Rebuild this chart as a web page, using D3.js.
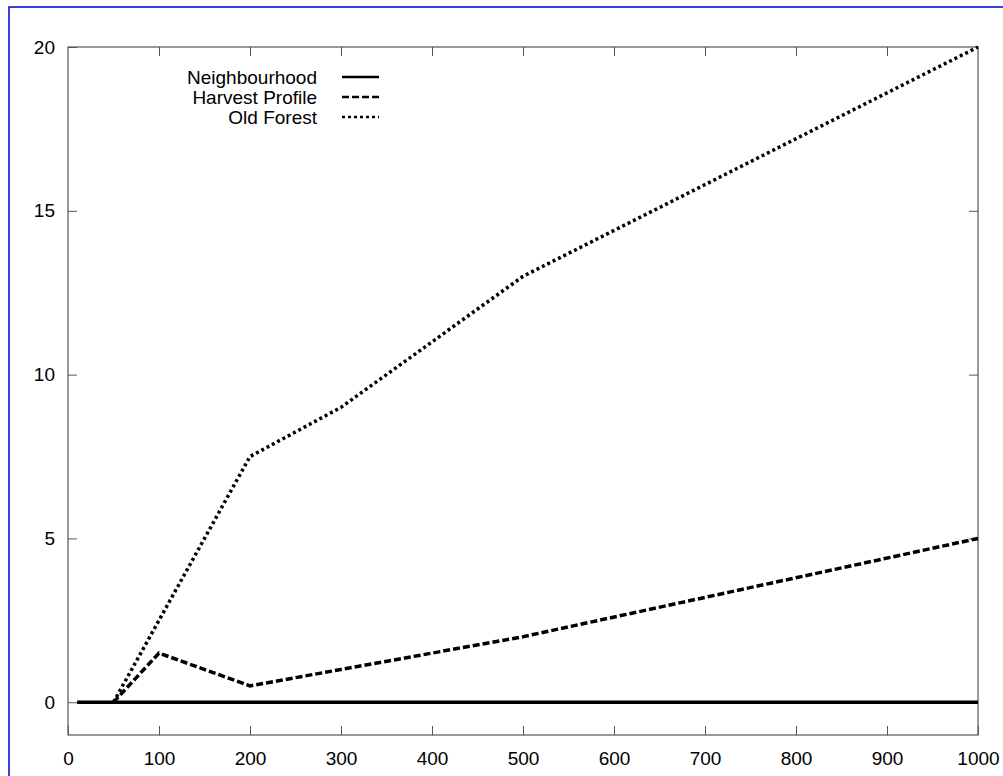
<!DOCTYPE html>
<html>
<head>
<meta charset="utf-8">
<script src="https://cdn.jsdelivr.net/npm/d3@7"></script>
<style>
  body { margin: 0; background: #fff; }
  text { font-family: "Liberation Sans", Arial, sans-serif; fill: #000; }
</style>
</head>
<body>
<div id="chart"></div>
<script>
// series data
const neighbourhood = [[10, 0], [50, 0], [100, 0], [200, 0], [300, 0], [500, 0], [1000, 0]];
const harvestProfile = [[50, 0], [100, 1.5], [200, 0.5], [300, 1], [500, 2], [1000, 5]];
const oldForest = [[50, 0], [100, 2.5], [200, 7.5], [300, 9], [500, 13], [1000, 20]];

const seriesNames = ["Neighbourhood", "Harvest Profile", "Old Forest"];
const xTicks = [0, 100, 200, 300, 400, 500, 600, 700, 800, 900, 1000];
const yTicks = [0, 5, 10, 15, 20];

const width = 1003, height = 776;
const plotLeft = 68, plotRight = 978, plotTop = 47, plotBottom = 735;

const svg = d3.select("#chart").append("svg")
  .attr("width", width)
  .attr("height", height);

svg.append("rect")
  .attr("width", width)
  .attr("height", height)
  .attr("fill", "#fff");

// blue frame
svg.append("rect")
  .attr("x", 9)
  .attr("y", 7)
  .attr("width", 1100)
  .attr("height", 900)
  .attr("fill", "none")
  .attr("stroke", "#0000d0")
  .attr("stroke-width", 1.5);

const x = d3.scaleLinear().domain([0, 1000]).range([plotLeft, plotRight]);
const y = d3.scaleLinear().domain([-1, 20]).range([plotBottom, plotTop]);

const axisColor = "#555";
const tickLen = 9;

// axes: ticks inward, mirrored on all four sides
const styleAxis = g => {
  g.select(".domain").remove();
  g.selectAll(".tick line").attr("stroke", axisColor);
  g.selectAll(".tick text").style("font-size", "19px");
};

svg.append("g")
  .attr("transform", `translate(0,${plotBottom})`)
  .call(d3.axisBottom(x).tickValues(xTicks).tickSize(-tickLen).tickPadding(17).tickFormat(d3.format("d")))
  .call(styleAxis);

svg.append("g")
  .attr("transform", `translate(0,${plotTop})`)
  .call(d3.axisTop(x).tickValues(xTicks.slice(1, -1)).tickSize(-tickLen).tickFormat(""))
  .call(styleAxis);

svg.append("g")
  .attr("transform", `translate(${plotLeft},0)`)
  .call(d3.axisLeft(y).tickValues(yTicks).tickSize(-tickLen).tickPadding(13).tickFormat(d3.format("d")))
  .call(styleAxis);

svg.append("g")
  .attr("transform", `translate(${plotRight},0)`)
  .call(d3.axisRight(y).tickValues(yTicks.slice(1, -1)).tickSize(-tickLen).tickFormat(""))
  .call(styleAxis);

svg.append("rect")
  .attr("x", plotLeft)
  .attr("y", plotTop)
  .attr("width", plotRight - plotLeft)
  .attr("height", plotBottom - plotTop)
  .attr("fill", "none")
  .attr("stroke", axisColor)
  .attr("stroke-width", 1.2);

const line = d3.line()
  .x(d => x(d[0]))
  .y(d => y(d[1]));

const series = [
  { name: seriesNames[0], data: neighbourhood, dash: null },
  { name: seriesNames[1], data: harvestProfile, dash: "7,3" },
  { name: seriesNames[2], data: oldForest, dash: "3,3" }
];

series.slice().reverse().forEach(s => {
  svg.append("path")
    .datum(s.data)
    .attr("fill", "none")
    .attr("stroke", "#000")
    .attr("stroke-width", 3.5)
    .attr("stroke-dasharray", s.dash)
    .attr("d", line);
});

// legend
const legend = svg.selectAll(".legend")
  .data(series)
  .enter().append("g")
  .attr("class", "legend")
  .attr("transform", (d, i) => `translate(0, ${77 + i * 20})`);

legend.append("text")
  .attr("x", 317)
  .attr("y", 0)
  .attr("dy", "0.35em")
  .style("text-anchor", "end")
  .style("font-size", "19px")
  .text(d => d.name);

legend.append("line")
  .attr("x1", 342)
  .attr("x2", 379)
  .attr("y1", 0)
  .attr("y2", 0)
  .attr("stroke", "#000")
  .attr("stroke-width", 2.5)
  .attr("stroke-dasharray", d => d.dash);
</script>
</body>
</html>
